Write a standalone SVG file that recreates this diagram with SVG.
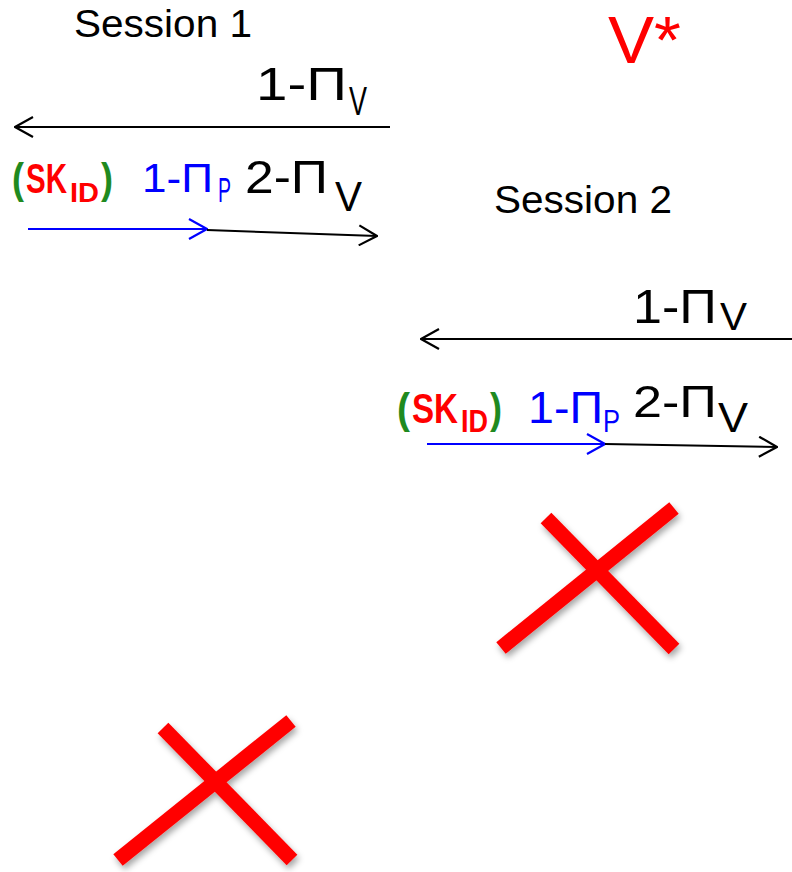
<svg xmlns="http://www.w3.org/2000/svg" width="792" height="872" viewBox="0 0 792 872">
  <style>
    text { font-family: "Liberation Sans", Arial, sans-serif; }
    .k { fill: #000; }
    .b { fill: #0000ff; }
    .r { fill: #ff0000; }
    .g { fill: #1f8a1f; }
    .bold { font-weight: bold; }
    .msg { stroke: #000; stroke-width: 2; fill: none; }
    .msgb { stroke: #0000ff; stroke-width: 2; fill: none; }
    .cross { stroke: #ff0000; stroke-width: 15; stroke-linecap: butt; fill: none; }
  </style>
  <defs>
    <marker id="headK" viewBox="0 0 20 22" refX="19" refY="11" markerWidth="20" markerHeight="22" markerUnits="userSpaceOnUse" orient="auto">
      <path d="M1,1 L19,11 L1,21" fill="none" stroke="#000" stroke-width="2.2"/>
    </marker>
    <marker id="headB" viewBox="0 0 20 22" refX="19" refY="11" markerWidth="20" markerHeight="22" markerUnits="userSpaceOnUse" orient="auto">
      <path d="M1,1 L19,11 L1,21" fill="none" stroke="#0000ff" stroke-width="2.2"/>
    </marker>
    <filter id="shadow" x="-20%" y="-20%" width="150%" height="150%">
      <feDropShadow dx="2" dy="4" stdDeviation="3" flood-color="#000" flood-opacity="0.35"/>
    </filter>
  </defs>

  <!-- session headings and verifier label -->
  <g id="session1">
    <text class="k" x="74" y="37" font-size="38" textLength="178" lengthAdjust="spacingAndGlyphs">Session 1</text>
  </g>
  <g id="session2">
    <text class="k" x="494" y="213" font-size="38" textLength="178" lengthAdjust="spacingAndGlyphs">Session 2</text>
  </g>
  <g id="verifier">
    <text class="r" x="608" y="63" font-size="66" textLength="73" lengthAdjust="spacingAndGlyphs">V*</text>
  </g>

  <!-- session 1 messages (subscripts as tspans) -->
  <g id="s1-msg1-label">
    <text class="k" font-size="47"><tspan x="256" y="100" textLength="91" lengthAdjust="spacingAndGlyphs">1-Π</tspan><tspan x="349" y="115" font-size="40" textLength="18" lengthAdjust="spacingAndGlyphs">V</tspan></text>
  </g>
  <g id="s1-msg2-label">
    <text class="bold" font-size="42"><tspan class="g" x="12" y="193" textLength="12" lengthAdjust="spacingAndGlyphs">(</tspan><tspan class="r" x="26" y="193" textLength="41" lengthAdjust="spacingAndGlyphs">SK</tspan><tspan class="r" x="70" y="202" font-size="28" textLength="29" lengthAdjust="spacingAndGlyphs">ID</tspan><tspan class="g" x="101" y="193" textLength="12" lengthAdjust="spacingAndGlyphs">)</tspan></text>
    <text class="b" font-size="40"><tspan x="142" y="192" textLength="71" lengthAdjust="spacingAndGlyphs">1-Π</tspan><tspan x="218" y="202" font-size="35" textLength="13" lengthAdjust="spacingAndGlyphs">P</tspan></text>
    <text class="k" font-size="46"><tspan x="245" y="193" textLength="83" lengthAdjust="spacingAndGlyphs">2-Π</tspan><tspan x="335" y="211" font-size="42" textLength="27" lengthAdjust="spacingAndGlyphs">V</tspan></text>
  </g>

  <!-- session 2 messages -->
  <g id="s2-msg1-label">
    <text class="k" font-size="49"><tspan x="633" y="323" textLength="84" lengthAdjust="spacingAndGlyphs">1-Π</tspan><tspan x="720" y="330" font-size="39" textLength="27" lengthAdjust="spacingAndGlyphs">V</tspan></text>
  </g>
  <g id="s2-msg2-label">
    <text class="bold" font-size="43"><tspan class="g" x="397" y="423" textLength="13" lengthAdjust="spacingAndGlyphs">(</tspan><tspan class="r" x="412" y="423" textLength="46" lengthAdjust="spacingAndGlyphs">SK</tspan><tspan class="r" x="461" y="432" font-size="31" textLength="27" lengthAdjust="spacingAndGlyphs">ID</tspan><tspan class="g" x="490" y="423" textLength="12" lengthAdjust="spacingAndGlyphs">)</tspan></text>
    <text class="b" font-size="44"><tspan x="528" y="423" textLength="75" lengthAdjust="spacingAndGlyphs">1-Π</tspan><tspan x="603" y="432" font-size="31" textLength="17" lengthAdjust="spacingAndGlyphs">P</tspan></text>
    <text class="k" font-size="45"><tspan x="633" y="417" textLength="84" lengthAdjust="spacingAndGlyphs">2-Π</tspan><tspan x="718" y="432" font-size="42" textLength="30" lengthAdjust="spacingAndGlyphs">V</tspan></text>
  </g>

  <!-- message arrows -->
  <g id="connectors">
    <line class="msg" x1="390" y1="127" x2="15" y2="127" marker-end="url(#headK)"/>
    <line class="msgb" x1="28" y1="229" x2="207" y2="229" marker-end="url(#headB)"/>
    <line class="msg" x1="207" y1="230" x2="377" y2="236" marker-end="url(#headK)"/>
    <line class="msg" x1="792" y1="339" x2="421" y2="339" marker-end="url(#headK)"/>
    <line class="msgb" x1="427" y1="444" x2="605" y2="444" marker-end="url(#headB)"/>
    <line class="msg" x1="605" y1="444" x2="777" y2="447" marker-end="url(#headK)"/>
  </g>

  <!-- rejection marks -->
  <g id="cross1" filter="url(#shadow)">
    <line class="cross" x1="546" y1="518" x2="674" y2="649"/>
    <line class="cross" x1="674" y1="508" x2="501" y2="648"/>
  </g>
  <g id="cross2" filter="url(#shadow)">
    <line class="cross" x1="163" y1="728" x2="292" y2="860"/>
    <line class="cross" x1="291" y1="721" x2="118" y2="860"/>
  </g>
</svg>
